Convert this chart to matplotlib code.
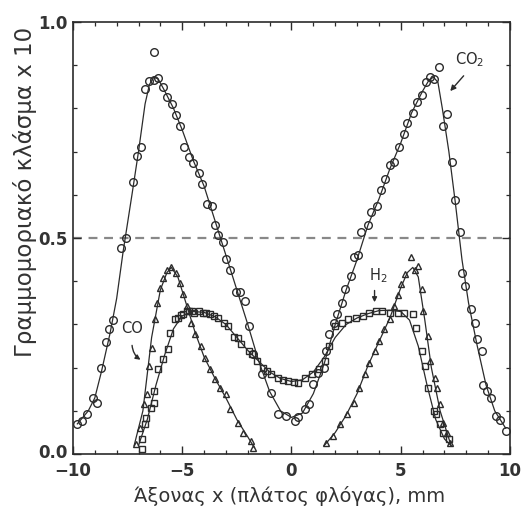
import numpy as np
import matplotlib
matplotlib.use('Agg')
import matplotlib.pyplot as plt
import matplotlib.transforms as mtransforms
from matplotlib.ticker import MultipleLocator

# measured points (markers)
co2_x = [-9.8, -9.6, -9.35, -9.1, -8.9, -8.7, -8.5, -8.35, -8.15, -7.8, -7.55, -7.25, -7.05, -6.9,
         -6.7, -6.5, -6.3, -6.3, -6.1, -5.9, -5.7, -5.45, -5.3, -5.1, -4.9, -4.7, -4.5, -4.25, -4.1,
         -3.85, -3.65, -3.5, -3.35, -3.15, -3.0, -2.8, -2.55, -2.35, -2.15, -1.95, -1.75, -1.35,
         -0.95, -0.6, -0.25, 0.15, 0.3, 0.6, 0.8, 1.0, 1.2, 1.5, 1.6, 1.7, 1.95, 2.1, 2.3, 2.45,
         2.7, 2.85, 3.05, 3.2, 3.5, 3.65, 3.9, 4.1, 4.3, 4.5, 4.7, 4.9, 5.15, 5.3, 5.55, 5.75, 5.95,
         6.15, 6.35, 6.5, 6.75, 6.95, 7.1, 7.35, 7.5, 7.7, 7.8, 7.95, 8.2, 8.4, 8.5, 8.7, 8.75,
         8.95, 9.15, 9.35, 9.55, 9.8]
co2_y = [0.07, 0.077, 0.093, 0.13, 0.118, 0.20, 0.26, 0.29, 0.31, 0.478, 0.50, 0.63, 0.69, 0.71,
         0.845, 0.863, 0.866, 0.93, 0.87, 0.85, 0.826, 0.81, 0.784, 0.76, 0.71, 0.687, 0.673, 0.65,
         0.626, 0.578, 0.575, 0.531, 0.506, 0.49, 0.452, 0.425, 0.374, 0.374, 0.355, 0.297, 0.232,
         0.186, 0.142, 0.093, 0.088, 0.077, 0.086, 0.104, 0.116, 0.162, 0.188, 0.20, 0.239, 0.278,
         0.304, 0.325, 0.35, 0.383, 0.413, 0.457, 0.46, 0.513, 0.53, 0.56, 0.575, 0.61, 0.637, 0.67,
         0.675, 0.71, 0.74, 0.765, 0.79, 0.815, 0.83, 0.86, 0.872, 0.868, 0.896, 0.76, 0.787, 0.675,
         0.587, 0.515, 0.42, 0.39, 0.336, 0.304, 0.267, 0.239, 0.16, 0.146, 0.13, 0.088, 0.08, 0.053]

h2_x = [-6.85, -6.85, -6.7, -6.65, -6.45, -6.3, -6.3, -6.1, -5.9, -5.65, -5.55, -5.35, -5.2, -5.05,
        -4.95, -4.8, -4.7, -4.55, -4.45, -4.25, -4.05, -3.9, -3.75, -3.55, -3.35, -3.1, -2.9, -2.65,
        -2.45, -2.3, -1.95, -1.8, -1.6, -1.3, -1.1, -0.95, -0.6, -0.4, -0.15, 0.1, 0.3, 0.6, 0.95,
        1.25, 1.55, 1.7, 2.0, 2.3, 2.6, 2.95, 3.25, 3.55, 3.85, 4.15, 4.5, 4.85, 5.15, 5.55, 5.7,
        5.95, 6.1, 6.25, 6.5, 6.6, 6.8, 6.95, 7.2]
h2_y = [0.012, 0.035, 0.07, 0.084, 0.107, 0.118, 0.146, 0.197, 0.22, 0.244, 0.28, 0.313, 0.316,
        0.322, 0.325, 0.33, 0.332, 0.33, 0.327, 0.33, 0.327, 0.326, 0.325, 0.32, 0.316, 0.304,
        0.297, 0.27, 0.268, 0.255, 0.239, 0.232, 0.216, 0.20, 0.193, 0.186, 0.176, 0.172, 0.169,
        0.166, 0.165, 0.176, 0.186, 0.197, 0.216, 0.25, 0.297, 0.304, 0.313, 0.316, 0.32, 0.327,
        0.332, 0.33, 0.327, 0.327, 0.327, 0.325, 0.292, 0.239, 0.204, 0.153, 0.10, 0.093, 0.07,
        0.049, 0.035]

co_x = [-7.1, -6.95, -6.75, -6.6, -6.5, -6.4, -6.25, -6.15, -6.0, -5.9, -5.7, -5.5, -5.3, -5.1,
        -4.95, -4.8, -4.6, -4.4, -4.15, -3.95, -3.75, -3.5, -3.25, -3.0, -2.8, -2.45, -2.2, -1.85,
        -1.75, 1.6, 1.9, 2.2, 2.55, 2.85, 3.1, 3.35, 3.55, 3.8, 4.0, 4.25, 4.5, 4.7, 4.85, 5.0,
        5.2, 5.45, 5.65, 5.8, 5.95, 6.0, 6.25, 6.35, 6.55, 6.65, 6.8, 6.95, 7.1, 7.25]
co_y = [0.023, 0.06, 0.116, 0.139, 0.204, 0.246, 0.313, 0.35, 0.385, 0.408, 0.425, 0.434, 0.42,
        0.397, 0.371, 0.343, 0.304, 0.278, 0.25, 0.223, 0.197, 0.174, 0.153, 0.139, 0.104, 0.072,
        0.049, 0.03, 0.014, 0.026, 0.042, 0.07, 0.093, 0.118, 0.153, 0.186, 0.211, 0.239, 0.262,
        0.29, 0.313, 0.343, 0.367, 0.394, 0.417, 0.455, 0.425, 0.436, 0.383, 0.332, 0.274, 0.216,
        0.176, 0.153, 0.116, 0.072, 0.049, 0.026]

# fitted curves
co2_fit_x = [-9.8, -9.3, -9.0, -8.7, -8.3, -8.0, -7.7, -7.3, -7.0, -6.7, -6.5, -6.3, -6.1, -5.8,
             -5.4, -5.0, -4.5, -4.0, -3.5, -3.0, -2.5, -2.0, -1.5, -1.0, -0.5, 0.0, 0.5, 1.0, 1.5,
             2.0, 2.5, 3.0, 3.5, 4.0, 4.5, 5.0, 5.5, 6.0, 6.3, 6.5, 6.7, 6.9, 7.2, 7.5, 7.8, 8.1,
             8.5, 8.9, 9.3, 9.8]
co2_fit_y = [0.07, 0.10, 0.13, 0.19, 0.28, 0.36, 0.47, 0.60, 0.70, 0.81, 0.855, 0.872, 0.868,
             0.84, 0.80, 0.75, 0.68, 0.62, 0.54, 0.46, 0.38, 0.30, 0.215, 0.145, 0.10, 0.085,
             0.095, 0.14, 0.21, 0.30, 0.38, 0.45, 0.53, 0.59, 0.66, 0.72, 0.79, 0.84, 0.866, 0.872,
             0.86, 0.80, 0.70, 0.58, 0.45, 0.35, 0.25, 0.16, 0.10, 0.06]

h2_fit_x = [-7.0, -6.6, -6.2, -5.8, -5.4, -5.0, -4.5, -4.0, -3.5, -3.0, -2.5, -2.0, -1.5, -1.0,
            -0.5, 0.0, 0.5, 1.0, 1.5, 2.0, 2.5, 3.0, 3.5, 4.0, 4.5, 5.0, 5.4, 5.8, 6.2, 6.6, 7.0, 7.3]
h2_fit_y = [0.02, 0.08, 0.16, 0.23, 0.29, 0.32, 0.33, 0.328, 0.318, 0.30, 0.27, 0.24, 0.215,
            0.19, 0.175, 0.168, 0.172, 0.19, 0.225, 0.27, 0.30, 0.315, 0.325, 0.332, 0.333, 0.33,
            0.31, 0.25, 0.16, 0.08, 0.035, 0.02]

co_fit_left_x = [-7.2, -6.8, -6.4, -6.0, -5.7, -5.5, -5.2, -4.8, -4.4, -4.0, -3.5, -3.0, -2.5, -2.0, -1.7]
co_fit_left_y = [0.02, 0.10, 0.27, 0.38, 0.42, 0.432, 0.41, 0.345, 0.28, 0.225, 0.175, 0.13, 0.08, 0.04, 0.015]
co_fit_right_x = [1.5, 2.0, 2.5, 3.0, 3.5, 4.0, 4.5, 5.0, 5.3, 5.55, 5.8, 6.1, 6.4, 6.8, 7.3]
co_fit_right_y = [0.02, 0.05, 0.09, 0.14, 0.205, 0.26, 0.315, 0.385, 0.42, 0.432, 0.41, 0.31, 0.2, 0.1, 0.02]

ink = '#2b2b2b'

fig = plt.figure(figsize=(5.21, 5.08), dpi=100)
ax = fig.add_axes([0.140, 0.106, 0.839, 0.851])

ax.axhline(0.5, color='#888888', lw=1.6, ls=(0, (4, 3)), zorder=1)

for fx, fy in [(co2_fit_x, co2_fit_y), (h2_fit_x, h2_fit_y),
               (co_fit_left_x, co_fit_left_y), (co_fit_right_x, co_fit_right_y)]:
    ax.plot(fx, fy, color=ink, lw=0.9, zorder=2)

ax.plot(co2_x, co2_y, 'o', ms=5.5, mfc='none', mec=ink, mew=1.0, zorder=3)
ax.plot(h2_x, h2_y, 's', ms=4.8, mfc='none', mec=ink, mew=1.0, zorder=3)
ax.plot(co_x, co_y, '^', ms=4.2, mfc='none', mec=ink, mew=1.0, zorder=3)

# labels on curves
ax.text(8.15, 0.912, 'CO$_2$', fontsize=10.5, color=ink, ha='center', va='center')
ax.annotate('', xy=(7.18, 0.835), xytext=(7.96, 0.88),
            arrowprops=dict(arrowstyle='-|>', color=ink, lw=1.0, mutation_scale=8))
ax.text(3.95, 0.413, 'H$_2$', fontsize=10.5, color=ink, ha='center', va='center')
ax.annotate('', xy=(3.8, 0.345), xytext=(3.8, 0.385),
            arrowprops=dict(arrowstyle='-|>', color=ink, lw=1.0, mutation_scale=7))
ax.text(-7.3, 0.29, 'CO', fontsize=10.5, color=ink, ha='center', va='center')
ax.annotate('', xy=(-6.8, 0.215), xytext=(-7.3, 0.258),
            arrowprops=dict(arrowstyle='-|>', color=ink, lw=1.0, mutation_scale=7,
                            connectionstyle='arc3,rad=0.3'))

ax.set_xlim(-10, 10)
ax.set_ylim(0, 1.0)
ax.set_xticks([-10, -5, 0, 5, 10])
ax.set_yticks([0.0, 0.5, 1.0])
ax.set_yticklabels(['0.0', '0.5', '1.0'])
ax.xaxis.set_minor_locator(MultipleLocator(1))
ax.yaxis.set_minor_locator(MultipleLocator(0.1))
ax.tick_params(which='both', direction='in', top=True, right=True, color=ink,
               labelsize=12, labelcolor='#333333')
ax.tick_params(axis='x', pad=6)
ax.tick_params(axis='y', pad=4)
ax.tick_params(which='major', length=6, width=1.0)
ax.tick_params(which='minor', length=3, width=0.9)
for lab in ax.get_xticklabels() + ax.get_yticklabels():
    lab.set_fontweight('bold')
# lift the bottom y label a few pixels so it clears the x labels
lift = mtransforms.ScaledTranslation(0, 3 / 100, fig.dpi_scale_trans)
lab0 = ax.get_yticklabels()[0]
lab0.set_transform(lab0.get_transform() + lift)
for sp in ax.spines.values():
    sp.set_color(ink)
    sp.set_linewidth(1.2)

fig.text(290 / 521, 1 - 496 / 508, 'Άξονας x (πλάτος φλόγας), mm', fontsize=14,
         color='#333333', ha='center', va='center')
fig.text(25 / 521, 1 - 192 / 508, 'Γραμμομοριακό κλάσμα x 10', fontsize=16.5,
         color='#333333', ha='center', va='center', rotation=90)

fig.savefig('out.png', dpi=100, facecolor='white')
